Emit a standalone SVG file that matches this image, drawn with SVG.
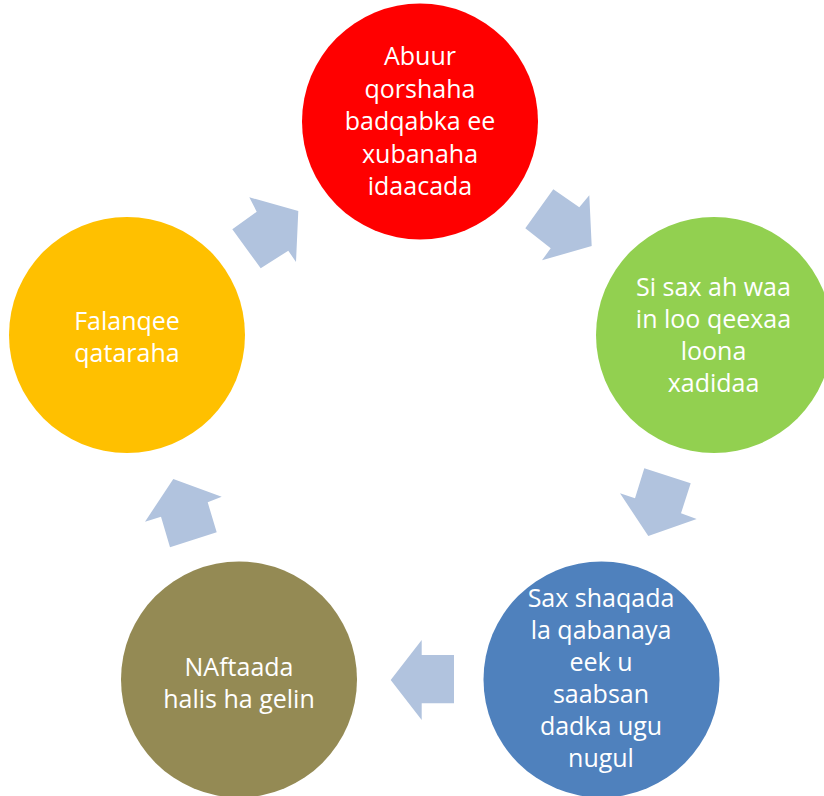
<svg xmlns="http://www.w3.org/2000/svg" width="824" height="796" viewBox="0 0 824 796">
<style>
.lbl{font-family:"Open Sans","Liberation Sans",sans-serif;font-size:25px;fill:#FFFFFF;text-anchor:middle}
.arr{fill:#B1C3DE}
</style>
<rect width="824" height="796" fill="#FFFFFF"/>
<g id="connectors">
<polygon class="arr" points="298.3,211 249.3,197.3 256.7,211.7 232.3,229.3 260.7,268.3 288.3,250.7 296,262"/>
<polygon class="arr" points="591.7,246 589.3,195.3 579.3,207.3 553.3,189.3 525.3,228.3 550.7,248.3 542,260.3"/>
<polygon class="arr" points="648.3,536 696.7,519 681,513.3 690.7,483.3 644.3,468.3 635,498.3 620,493.3"/>
<polygon class="arr" points="390.7,680 421.7,640 421.7,655 454,655 454,703.3 421.7,703.3 421.7,720"/>
<polygon class="arr" points="173.3,479 221.7,496.7 207.7,502.3 216.7,532.3 170,547.3 161,516.7 145,521.7"/>
</g>
<g id="node-red">
<circle cx="420" cy="121.5" r="118" fill="#FF0000"/>
<text class="lbl" x="420" y="65">Abuur</text>
<text class="lbl" x="420" y="97.5">qorshaha</text>
<text class="lbl" x="420" y="130">badqabka ee</text>
<text class="lbl" x="420" y="162.5">xubanaha</text>
<text class="lbl" x="420" y="195">idaacada</text>
</g>
<g id="node-green">
<circle cx="714" cy="335" r="118" fill="#92D050"/>
<text class="lbl" x="713.5" y="296">Si sax ah waa</text>
<text class="lbl" x="713.5" y="328">in loo qeexaa</text>
<text class="lbl" x="713.5" y="360">loona</text>
<text class="lbl" x="713.5" y="392">xadidaa</text>
</g>
<g id="node-blue">
<circle cx="601.5" cy="679.5" r="118" fill="#4F81BD"/>
<text class="lbl" x="601" y="607">Sax shaqada</text>
<text class="lbl" x="601" y="639">la qabanaya</text>
<text class="lbl" x="601" y="671">eek u</text>
<text class="lbl" x="601" y="703">saabsan</text>
<text class="lbl" x="601" y="735">dadka ugu</text>
<text class="lbl" x="601" y="767">nugul</text>
</g>
<g id="node-olive">
<circle cx="239" cy="679.5" r="118" fill="#948A54"/>
<text class="lbl" x="239" y="676">NAftaada</text>
<text class="lbl" x="239" y="708">halis ha gelin</text>
</g>
<g id="node-yellow">
<circle cx="127" cy="335" r="118" fill="#FFC000"/>
<text class="lbl" x="127" y="330">Falanqee</text>
<text class="lbl" x="127" y="362">qataraha</text>
</g>
</svg>
